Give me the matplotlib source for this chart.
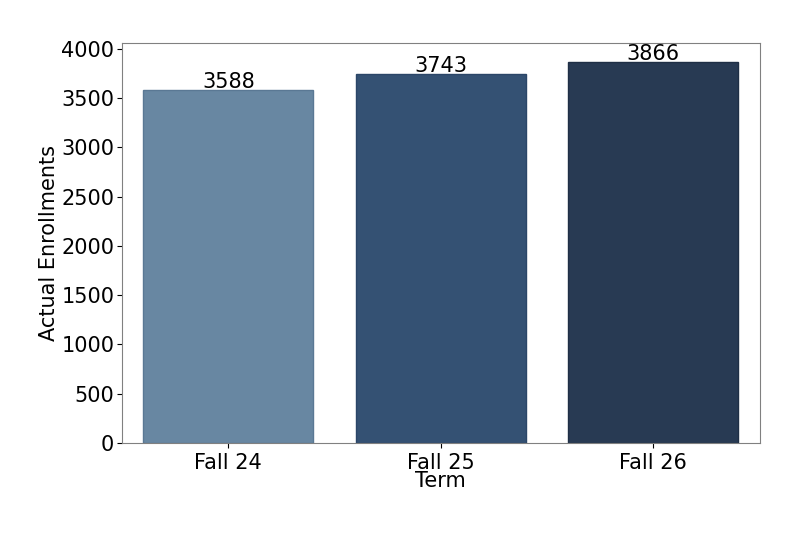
import matplotlib.pyplot as plt

terms = ["Fall 24", "Fall 25", "Fall 26"]
enrollments = [3588, 3743, 3866]
colors = ["#6887a2", "#345173", "#283a53"]
edges = ["#5a7894", "#2b4668", "#1f2f45"]

fig = plt.figure(figsize=(8, 5.33), dpi=100)
ax = fig.add_axes([0.1525, 0.169, 0.797, 0.75])

bars = ax.bar(range(len(terms)), enrollments, width=0.8, color=colors, edgecolor=edges, linewidth=1)
ax.bar_label(bars, labels=[str(v) for v in enrollments], padding=-1.5, fontsize=15)

ax.set_xticks(range(len(terms)))
ax.set_xticklabels(terms)
ax.set_xlim(-0.5, 2.5)
ax.tick_params(labelsize=15)
ax.tick_params(axis="y", pad=2)
ax.set_xlabel("Term", fontsize=15, labelpad=-1)
ax.set_ylabel("Actual Enrollments", fontsize=15, labelpad=2)
for s in ax.spines.values():
    s.set_color("#808080")

fig.savefig("out.png", dpi=100)
